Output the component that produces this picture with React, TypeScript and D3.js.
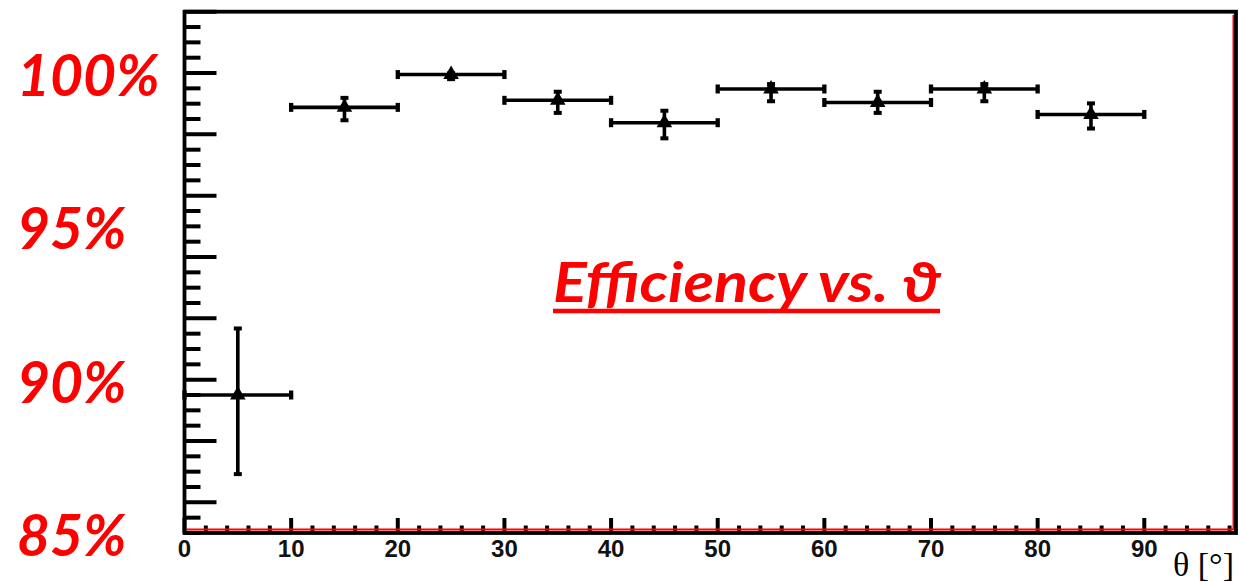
import React from "react";
import * as d3 from "d3";

// Efficiency per polar-angle bin (bin centre in degrees, half-width, asymmetric errors)
const thetaCenters = [5, 15, 25, 35, 45, 55, 65, 75, 85];
const thetaHalfWidths = [5, 5, 5, 5, 5, 5, 5, 5, 5];
const efficiency = [0.895, 0.9888, 0.9995, 0.9911, 0.9838, 0.9948, 0.9904, 0.9948, 0.9865];
const errUp = [0.0217, 0.0031, 0.0004, 0.0028, 0.0039, 0.0016, 0.0035, 0.0016, 0.0036];
const errDown = [0.0258, 0.0042, 0.0015, 0.0041, 0.0051, 0.004, 0.0034, 0.004, 0.0046];

const xTickLabels = [0, 10, 20, 30, 40, 50, 60, 70, 80, 90];
const yLabelValues = [1.0, 0.95, 0.9, 0.85];
const yLabelTexts = ["100%", "95%", "90%", "85%"];

const W = 1239;
const H = 582;
const RED = "#ff0000";

export default function App() {
  const x = d3.scaleLinear().domain([0, 98.6]).range([184.5, 1236]);
  const y = d3.scaleLinear().domain([0.85, 1.02]).range([533, 11.7]);

  const [x0, x1] = x.range();
  const [yb, yt] = y.range();

  const xMinor = d3.range(0, 98.6, 2);
  const yMinor = d3.range(0, 35).map((i) => 0.85 + i * 0.005).filter((v) => v <= 1.0201);
  const isYMajor = (v: number) => Math.abs(Math.round((v - 0.86) / 0.02) * 0.02 + 0.86 - v) < 1e-6;
  const isXMajor = (v: number) => v % 10 === 0;

  const tri = d3.symbol().type(d3.symbolTriangle).size(105)();

  const titleX = 553;
  const titleW = 387;

  return (
    <svg
      width={W}
      height={H}
      style={{ position: "absolute", left: 0, top: 0, background: "#fff" }}
    >
      <rect width={W} height={H} fill="#fff" />

      {/* y-axis ticks (inside frame) */}
      {yMinor.map((v, i) => (
        <line
          key={"yt" + i}
          x1={x0}
          x2={x0 + (isYMajor(v) ? 32 : 16)}
          y1={y(v)}
          y2={y(v)}
          stroke="#000"
          strokeWidth={4}
        />
      ))}

      {/* x-axis ticks (inside frame) */}
      {xMinor.map((v, i) => (
        <line
          key={"xt" + i}
          x1={x(v)}
          x2={x(v)}
          y1={yb}
          y2={yb - (isXMajor(v) ? 15 : 7.5)}
          stroke="#000"
          strokeWidth={4}
        />
      ))}

      {/* red inner frame lines */}
      <line x1={x0 + 2} x2={x1 - 2} y1={yb - 3.5} y2={yb - 3.5} stroke={RED} strokeWidth={2} />
      <line x1={x1 - 2.5} x2={x1 - 2.5} y1={yt + 3} y2={yb - 3} stroke={RED} strokeWidth={2} />

      {/* frame */}
      <rect
        x={x0}
        y={yt}
        width={x1 - x0}
        height={yb - yt}
        fill="none"
        stroke="#000"
        strokeWidth={3.8}
      />

      {/* data: horizontal bin bars, vertical error bars, markers */}
      {thetaCenters.map((c, i) => {
        const cx = x(c);
        const cy = y(efficiency[i]);
        const xl = x(c - thetaHalfWidths[i]);
        const xr = x(c + thetaHalfWidths[i]);
        const yu = y(efficiency[i] + errUp[i]);
        const yd = y(efficiency[i] - errDown[i]);
        return (
          <g key={"pt" + i} stroke="#000" strokeWidth={3.6}>
            <line x1={xl} x2={xr} y1={cy} y2={cy} />
            <line x1={xl} x2={xl} y1={cy - 4.5} y2={cy + 4.5} strokeWidth={4.3} />
            <line x1={xr} x2={xr} y1={cy - 4.5} y2={cy + 4.5} strokeWidth={4.3} />
            <line x1={cx} x2={cx} y1={yu} y2={yd} />
            <line x1={cx - 4} x2={cx + 4} y1={yu} y2={yu} strokeWidth={4} />
            <line x1={cx - 4} x2={cx + 4} y1={yd} y2={yd} strokeWidth={4} />
            <path d={tri ?? ""} transform={`translate(${cx},${cy})`} fill="#000" stroke="none" />
          </g>
        );
      })}

      {/* x tick labels */}
      {xTickLabels.map((v) => (
        <text
          key={"xl" + v}
          x={x(v)}
          y={557}
          textAnchor="middle"
          fontFamily="'Liberation Sans', Arial, sans-serif"
          fontWeight="bold"
          fontSize={24}
          fill="#111"
        >
          {v}
        </text>
      ))}

      {/* x axis title */}
      <text
        x={1234}
        y={576}
        textAnchor="end"
        fontFamily="'Liberation Serif', 'Times New Roman', serif"
        fontSize={34}
        fill="#000"
      >
        θ [°]
      </text>

      {/* red percentage labels */}
      {yLabelValues.map((v, i) => (
        <text
          key={"yl" + i}
          x={17}
          y={y(v) + 23}
          fontFamily="Lato, 'Open Sans', sans-serif"
          fontStyle="italic"
          fontWeight="bold"
          fontSize={57}
          fill={RED}
        >
          {yLabelTexts[i]}
        </text>
      ))}

      {/* title */}
      <text
        x={titleX}
        y={302}
        textLength={titleW}
        lengthAdjust="spacingAndGlyphs"
        fontFamily="Lato, 'Open Sans', sans-serif"
        fontStyle="italic"
        fontWeight="bold"
        fontSize={55}
        fill={RED}
      >
        Efficiency vs. ϑ
      </text>
      <line x1={titleX} x2={titleX + titleW} y1={311} y2={311} stroke={RED} strokeWidth={4.5} />
    </svg>
  );
}
